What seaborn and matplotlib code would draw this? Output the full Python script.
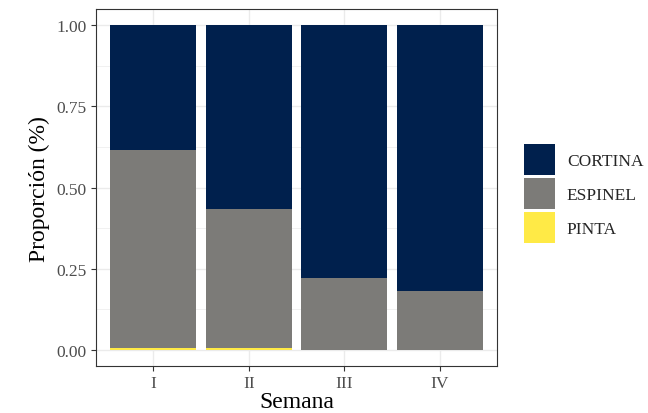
import numpy as np
import pandas as pd
import matplotlib.pyplot as plt
import seaborn as sns
from matplotlib.patches import Patch
from matplotlib.ticker import MultipleLocator

semanas = ['I', 'II', 'III', 'IV']
artes = ['CORTINA', 'ESPINEL', 'PINTA']
cortina = [0.385, 0.566, 0.778, 0.818]
espinel = [0.610, 0.429, 0.222, 0.182]
pinta = [0.005, 0.005, 0.0, 0.0]
colores = {'CORTINA': '#00204D', 'ESPINEL': '#7C7B78', 'PINTA': '#FFEA46'}

sns.set_theme(style='white')
plt.rcParams['font.family'] = ['Liberation Serif', 'DejaVu Serif']

df = pd.DataFrame({'semana': semanas, 'CORTINA': cortina,
                   'ESPINEL': espinel, 'PINTA': pinta})
# stacked heights, drawn from the top layer down
df['top_cortina'] = df['CORTINA'] + df['ESPINEL'] + df['PINTA']
df['top_espinel'] = df['ESPINEL'] + df['PINTA']
df['top_pinta'] = df['PINTA']

fig = plt.figure(figsize=(6.48, 4.14), dpi=100)
ax = fig.add_axes([0.148, 0.113, 0.619, 0.863])

for col, arte in [('top_cortina', 'CORTINA'), ('top_espinel', 'ESPINEL'), ('top_pinta', 'PINTA')]:
    sns.barplot(data=df, x='semana', y=col, color=colores[arte], width=0.9,
                saturation=1, linewidth=0, ax=ax, order=semanas, zorder=2)

ax.set_xlim(-0.6, 3.6)
ax.set_ylim(-0.05, 1.05)
ax.yaxis.set_major_locator(MultipleLocator(0.25))
ax.yaxis.set_minor_locator(MultipleLocator(0.125))
ax.set_yticklabels([f'{v:.2f}' for v in ax.get_yticks()])
ax.set_ylim(-0.05, 1.05)
ax.grid(True, which='major', color='#EBEBEB', linewidth=1.0, zorder=0)
ax.grid(True, which='minor', axis='y', color='#EBEBEB', linewidth=0.5, zorder=0)
ax.set_axisbelow(True)
for s in ax.spines.values():
    s.set_color('#333333')
    s.set_linewidth(0.8)
ax.tick_params(which='major', length=3.5, width=0.8, color='#333333',
               labelsize=12.5, labelcolor='#4D4D4D', pad=3, bottom=True, left=True)
ax.tick_params(which='minor', length=0)
ax.set_xlabel('Semana', fontsize=17, labelpad=0, color='black')
ax.set_ylabel('Proporción (%)', fontsize=17, labelpad=5, color='black')

handles = [Patch(facecolor=colores[a], edgecolor='none', label=a) for a in artes]
fig.legend(handles=handles, loc='center left', bbox_to_anchor=(0.785, 0.53),
           frameon=False, fontsize=12.5, handlelength=1.75, handleheight=2.4,
           labelspacing=0.15, handletextpad=0.7)

fig.savefig('out.png', dpi=100)
